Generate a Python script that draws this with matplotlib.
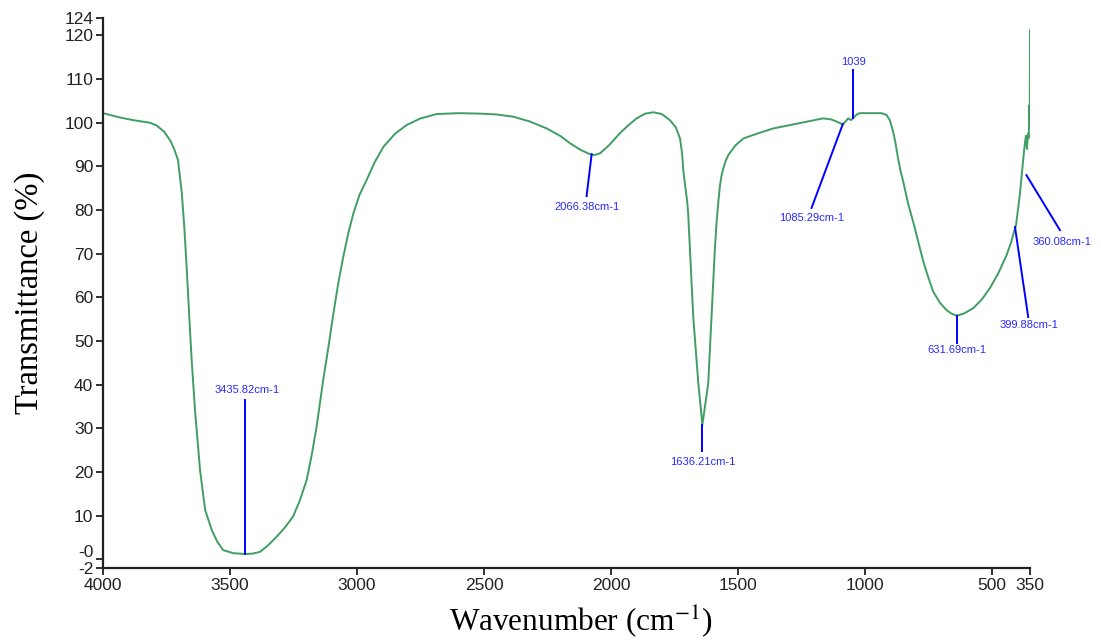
import matplotlib
matplotlib.use("Agg")
import matplotlib.pyplot as plt
import matplotlib.transforms as mtransforms

# FTIR trace (wavenumber cm-1, transmittance %)
wavenumber = [4000, 3940, 3882, 3815, 3790, 3760, 3736, 3720, 3705, 3700, 3690, 3680,
              3670, 3660, 3651, 3638, 3618, 3598, 3572, 3550, 3527, 3488, 3441, 3410,
              3382, 3350, 3316, 3285, 3252, 3225, 3198, 3178, 3159, 3133, 3113, 3093,
              3073, 3054, 3034, 3014, 2990, 2962, 2930, 2896, 2850, 2804, 2750, 2686,
              2600, 2516, 2450, 2385, 2320, 2253, 2200, 2161, 2120, 2083, 2066, 2043,
              2005, 1965, 1930, 1899, 1865, 1833, 1800, 1768, 1745, 1728, 1720, 1715,
              1709, 1700, 1696, 1689, 1676, 1656, 1640, 1617, 1604, 1591, 1584, 1577,
              1571, 1565, 1558, 1548, 1538, 1510, 1479, 1420, 1361, 1310, 1257, 1210,
              1165, 1135, 1112, 1087, 1066, 1055, 1046, 1030, 1020, 935, 915, 902,
              889, 880, 870, 860, 849, 830, 810, 790, 770, 750, 731, 705,
              679, 660, 639, 610, 574, 540, 508, 475, 442, 425, 409, 405,
              390, 375, 370, 366, 362, 358, 355, 352, 351, 350]
transmittance = [102.2, 101.3, 100.6, 100.0, 99.4, 98.0, 96.0, 94.0, 91.5, 89.0, 84.0, 76.0,
                 66.0, 55.0, 45.6, 34.2, 20.4, 11.3, 6.7, 4.0, 2.1, 1.4, 1.2, 1.3,
                 1.7, 3.2, 5.2, 7.2, 9.75, 13.5, 18.2, 24.0, 30.4, 41.1, 48.5, 56.3,
                 63.5, 69.3, 74.8, 79.3, 83.5, 86.9, 91.0, 94.5, 97.5, 99.5, 101.0, 102.0,
                 102.2, 102.1, 101.9, 101.4, 100.3, 98.7, 97.0, 95.3, 93.8, 92.8, 92.6, 93.0,
                 95.0, 97.6, 99.5, 101.0, 102.1, 102.4, 102.0, 100.6, 99.0, 96.4, 93.0, 89.0,
                 86.1, 82.0, 79.3, 70.9, 55.6, 40.3, 30.8, 40.3, 55.6, 70.9, 77.3, 82.0,
                 85.5, 87.8, 89.5, 91.3, 92.6, 94.8, 96.4, 97.6, 98.7, 99.3, 99.9, 100.5,
                 101.0, 100.8, 100.3, 99.6, 101.0, 100.6, 101.1, 102.0, 102.2, 102.2, 101.8, 100.6,
                 98.0, 95.5, 92.0, 89.0, 86.5, 81.5, 77.3, 72.7, 68.2, 64.5, 61.3, 58.8,
                 57.1, 56.3, 55.8, 56.3, 57.5, 59.5, 62.1, 65.5, 69.7, 72.5, 75.8, 76.5,
                 83.5, 92.6, 95.3, 97.0, 94.0, 97.5, 96.5, 104.0, 100.0, 121.2]

# peak labels: text, curve tip (wn, T), leader end (wn, T), text position (wn, T)
peak_labels = ["3435.82cm-1", "2066.38cm-1", "1636.21cm-1", "1085.29cm-1",
               "1039", "631.69cm-1", "399.88cm-1", "360.08cm-1"]
tip_xy = [(3441, 1.2), (2076, 92.8), (1640, 30.8), (1087, 99.7),
          (1046, 101.1), (639, 55.7), (409, 76.1), (364, 88.0)]
end_xy = [(3441, 36.5), (2096, 83.2), (1640, 24.8), (1210, 80.5),
          (1046, 112.1), (639, 49.5), (357, 55.5), (232, 75.4)]
text_xy = [(3433, 38.8), (2095, 80.7), (1640, 22.3), (1209, 78.2),
           (1046, 114.0), (639, 47.9), (354, 53.7), (224, 72.7)]

xticks = [4000, 3500, 3000, 2500, 2000, 1500, 1000, 500, 350]
yticks = [124, 120, 110, 100, 90, 80, 70, 60, 50, 40, 30, 20, 10, 0, -2]
ytick_labels = ["124", "120", "110", "100", "90", "80", "70", "60", "50",
                "40", "30", "20", "10", "-0", "-2"]

plt.rcParams["font.family"] = ["Liberation Sans", "DejaVu Sans"]
plt.rcParams["mathtext.fontset"] = "stix"

fig = plt.figure(figsize=(11.01, 6.41), dpi=100)
ax = fig.add_axes([0.0936, 0.1139, 0.8419, 0.858])

ax.plot(wavenumber, transmittance, color="#3f9e64", lw=1.4)

for lab, (tx, ty), (ex, ey), (lx, ly) in zip(peak_labels, tip_xy, end_xy, text_xy):
    ax.plot([tx, ex], [ty, ey], color="#0000ff", lw=1.4, clip_on=False)
    ax.text(lx, ly, lab, color="#2a2aff", fontsize=8, ha="center", va="center",
            clip_on=False)

ax.set_xlim(4000, 350)
ax.set_ylim(-2, 124)
ax.set_xticks(xticks)
ax.set_yticks(yticks)
ax.set_yticklabels(ytick_labels)
ax.tick_params(direction="out", length=5, width=1.3, colors="#222222",
               labelsize=12.5, pad=2)
for s in ("top", "right"):
    ax.spines[s].set_visible(False)
for s in ("left", "bottom"):
    ax.spines[s].set_linewidth(1.6)
    ax.spines[s].set_color("#222222")

# the "-0" label sits a little above its tick in the original
lbl = ax.get_yticklabels()[ytick_labels.index("-0")]
lbl.set_transform(lbl.get_transform() + mtransforms.ScaledTranslation(0, 8 / 100, fig.dpi_scale_trans))

ax.set_xlabel("Wavenumber (cm$^{-1}$)", family="Liberation Serif", fontsize=22.5)
ax.xaxis.set_label_coords(0.515, -0.064, transform=ax.transAxes)
ax.xaxis.label.set_va("top")
ax.set_ylabel("Transmittance (%)", family="Liberation Serif", fontsize=23.5, labelpad=14)

fig.savefig("out.png", dpi=100, facecolor="white")
